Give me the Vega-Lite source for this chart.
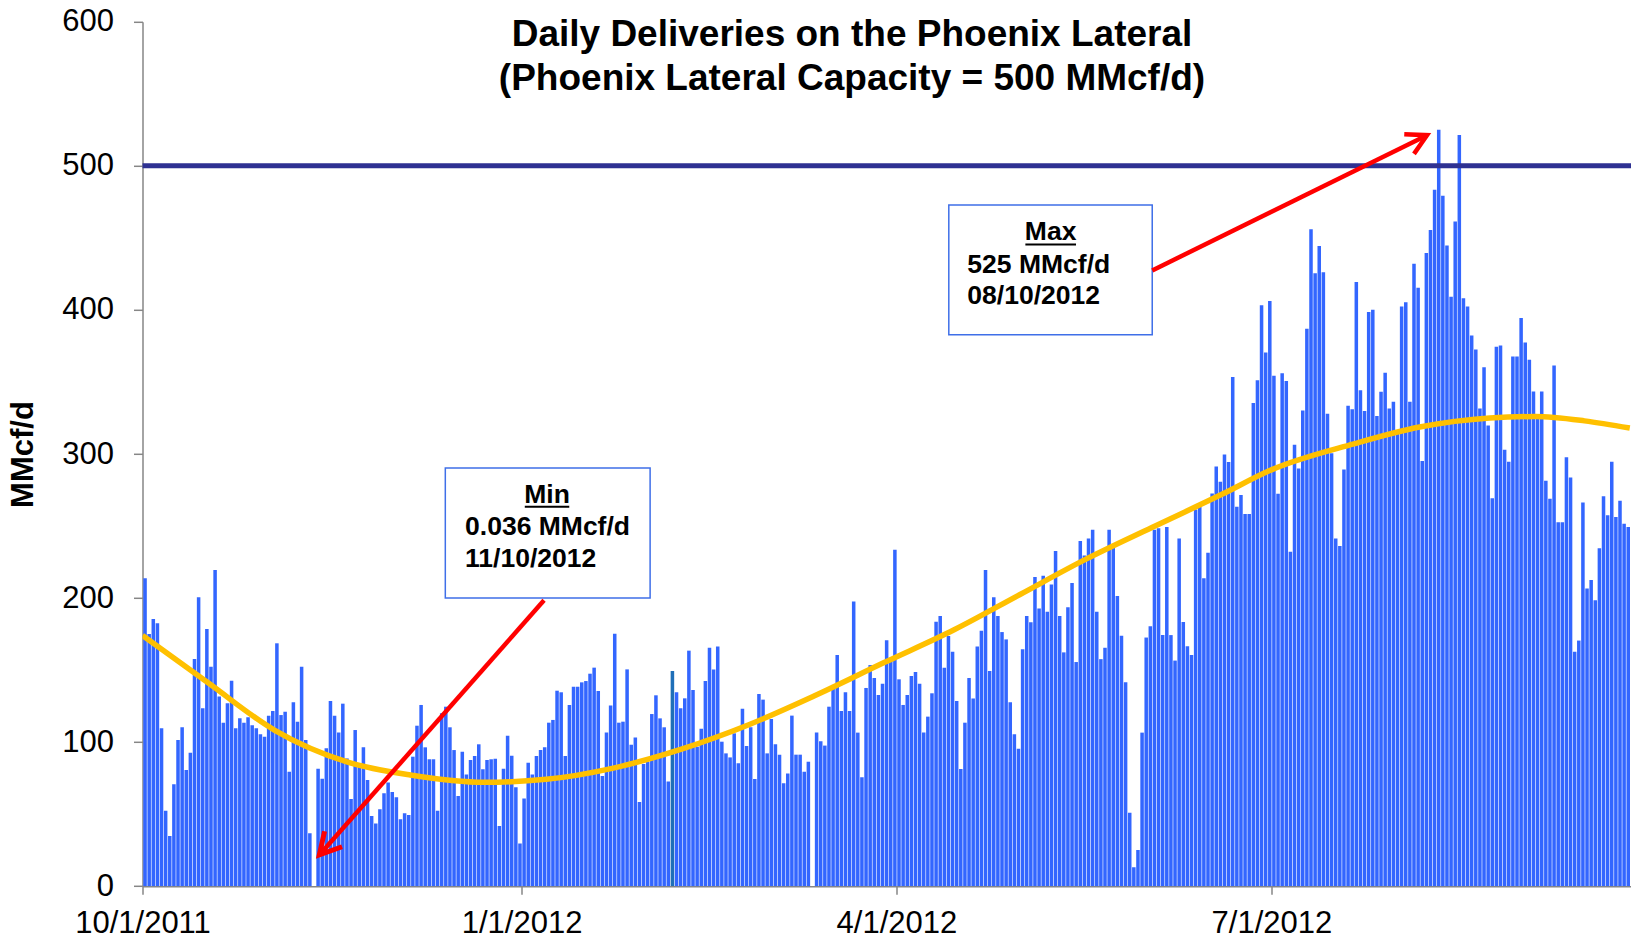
{
"$schema": "https://vega.github.io/schema/vega-lite/v6.json",
"width": 1488.5, "height": 864.4,
"autosize": {"type": "none"},
"padding": {"left": 142.5, "top": 21.8, "right": 0, "bottom": 56.8},
"background": "white",
"config": {"view": {"stroke": null}, "font": "Liberation Sans", "axis": {"grid": false}, "bar": {"binSpacing": 0.6}},
"data": {"values": [{}]},
"datasets": {
"daily": [
{"date":"2011-10-01","mmcfd":213.7},{"date":"2011-10-02","mmcfd":175},{"date":"2011-10-03","mmcfd":185.5},{"date":"2011-10-04","mmcfd":182.5},{"date":"2011-10-05","mmcfd":109.6},{"date":"2011-10-06","mmcfd":52.4},{"date":"2011-10-07","mmcfd":34.8},{"date":"2011-10-08","mmcfd":70.7},{"date":"2011-10-09","mmcfd":101.5},{"date":"2011-10-10","mmcfd":110.3},{"date":"2011-10-11","mmcfd":80.7},{"date":"2011-10-12","mmcfd":92.7},{"date":"2011-10-13","mmcfd":157.7},{"date":"2011-10-14","mmcfd":200.5},{"date":"2011-10-15","mmcfd":123.5},{"date":"2011-10-16","mmcfd":178.5},{"date":"2011-10-17","mmcfd":152.4},{"date":"2011-10-18","mmcfd":219.5},{"date":"2011-10-19","mmcfd":131.6},{"date":"2011-10-20","mmcfd":113.5},{"date":"2011-10-21","mmcfd":127},{"date":"2011-10-22","mmcfd":142.6},{"date":"2011-10-23","mmcfd":109.6},{"date":"2011-10-24","mmcfd":116.5},{"date":"2011-10-25","mmcfd":113.5},{"date":"2011-10-26","mmcfd":117.2},{"date":"2011-10-27","mmcfd":111.7},{"date":"2011-10-28","mmcfd":109.6},{"date":"2011-10-29","mmcfd":105.4},{"date":"2011-10-30","mmcfd":103.8},{"date":"2011-10-31","mmcfd":118.4},
{"date":"2011-11-01","mmcfd":121.6},{"date":"2011-11-02","mmcfd":168.6},{"date":"2011-11-03","mmcfd":118.8},{"date":"2011-11-04","mmcfd":121.1},{"date":"2011-11-05","mmcfd":79.5},{"date":"2011-11-06","mmcfd":127.6},{"date":"2011-11-07","mmcfd":114.2},{"date":"2011-11-08","mmcfd":152.4},{"date":"2011-11-09","mmcfd":101.5},{"date":"2011-11-10","mmcfd":36.7},{"date":"2011-11-11","mmcfd":0.036},{"date":"2011-11-12","mmcfd":81.6},{"date":"2011-11-13","mmcfd":74.6},{"date":"2011-11-14","mmcfd":95.7},{"date":"2011-11-15","mmcfd":128.5},{"date":"2011-11-16","mmcfd":118.4},{"date":"2011-11-17","mmcfd":106.6},{"date":"2011-11-18","mmcfd":126.7},{"date":"2011-11-19","mmcfd":88.7},{"date":"2011-11-20","mmcfd":60.5},{"date":"2011-11-21","mmcfd":108.4},{"date":"2011-11-22","mmcfd":83},{"date":"2011-11-23","mmcfd":96.4},{"date":"2011-11-24","mmcfd":73.7},{"date":"2011-11-25","mmcfd":48.7},{"date":"2011-11-26","mmcfd":43.6},{"date":"2011-11-27","mmcfd":53.4},{"date":"2011-11-28","mmcfd":64.5},{"date":"2011-11-29","mmcfd":72},{"date":"2011-11-30","mmcfd":65.4},
{"date":"2011-12-01","mmcfd":61.7},{"date":"2011-12-02","mmcfd":46.4},{"date":"2011-12-03","mmcfd":50.6},{"date":"2011-12-04","mmcfd":49.4},{"date":"2011-12-05","mmcfd":89.9},{"date":"2011-12-06","mmcfd":111.4},{"date":"2011-12-07","mmcfd":125.8},{"date":"2011-12-08","mmcfd":96.4},{"date":"2011-12-09","mmcfd":88.1},{"date":"2011-12-10","mmcfd":88.1},{"date":"2011-12-11","mmcfd":52.4},{"date":"2011-12-12","mmcfd":120},{"date":"2011-12-13","mmcfd":124.6},{"date":"2011-12-14","mmcfd":110.3},{"date":"2011-12-15","mmcfd":94.5},{"date":"2011-12-16","mmcfd":62.6},{"date":"2011-12-17","mmcfd":93.4},{"date":"2011-12-18","mmcfd":77.6},{"date":"2011-12-19","mmcfd":87.6},{"date":"2011-12-20","mmcfd":90.4},{"date":"2011-12-21","mmcfd":98.5},{"date":"2011-12-22","mmcfd":81.1},{"date":"2011-12-23","mmcfd":87.6},{"date":"2011-12-24","mmcfd":88.1},{"date":"2011-12-25","mmcfd":88.5},{"date":"2011-12-26","mmcfd":41.8},{"date":"2011-12-27","mmcfd":81.6},{"date":"2011-12-28","mmcfd":104.5},{"date":"2011-12-29","mmcfd":90.6},{"date":"2011-12-30","mmcfd":68.6},{"date":"2011-12-31","mmcfd":29.7},
{"date":"2012-01-01","mmcfd":60.8},{"date":"2012-01-02","mmcfd":85.7},{"date":"2012-01-03","mmcfd":77.6},{"date":"2012-01-04","mmcfd":90.4},{"date":"2012-01-05","mmcfd":94.5},{"date":"2012-01-06","mmcfd":96.4},{"date":"2012-01-07","mmcfd":113.5},{"date":"2012-01-08","mmcfd":115.4},{"date":"2012-01-09","mmcfd":135.7},{"date":"2012-01-10","mmcfd":134.6},{"date":"2012-01-11","mmcfd":90.4},{"date":"2012-01-12","mmcfd":125.8},{"date":"2012-01-13","mmcfd":138.5},{"date":"2012-01-14","mmcfd":138.5},{"date":"2012-01-15","mmcfd":141.5},{"date":"2012-01-16","mmcfd":142.4},{"date":"2012-01-17","mmcfd":147.5},{"date":"2012-01-18","mmcfd":151.7},{"date":"2012-01-19","mmcfd":135.5},{"date":"2012-01-20","mmcfd":76.5},{"date":"2012-01-21","mmcfd":106.6},{"date":"2012-01-22","mmcfd":125.5},{"date":"2012-01-23","mmcfd":175.3},{"date":"2012-01-24","mmcfd":113.5},{"date":"2012-01-25","mmcfd":114.2},{"date":"2012-01-26","mmcfd":150.5},{"date":"2012-01-27","mmcfd":98.2},{"date":"2012-01-28","mmcfd":103.3},{"date":"2012-01-29","mmcfd":58.4},{"date":"2012-01-30","mmcfd":84.8},{"date":"2012-01-31","mmcfd":86.4},
{"date":"2012-02-01","mmcfd":119.5},{"date":"2012-02-02","mmcfd":132.5},{"date":"2012-02-03","mmcfd":116.5},{"date":"2012-02-04","mmcfd":110.3},{"date":"2012-02-05","mmcfd":72.6},{"date":"2012-02-06","mmcfd":149.4},{"date":"2012-02-07","mmcfd":134.6},{"date":"2012-02-08","mmcfd":123.5},{"date":"2012-02-09","mmcfd":130.4},{"date":"2012-02-10","mmcfd":163.5},{"date":"2012-02-11","mmcfd":136.2},{"date":"2012-02-12","mmcfd":96.8},{"date":"2012-02-13","mmcfd":109.3},{"date":"2012-02-14","mmcfd":142.4},{"date":"2012-02-15","mmcfd":165.6},{"date":"2012-02-16","mmcfd":150.5},{"date":"2012-02-17","mmcfd":166.3},{"date":"2012-02-18","mmcfd":100.3},{"date":"2012-02-19","mmcfd":92.2},{"date":"2012-02-20","mmcfd":89.4},{"date":"2012-02-21","mmcfd":106.1},{"date":"2012-02-22","mmcfd":85.3},{"date":"2012-02-23","mmcfd":123.2},{"date":"2012-02-24","mmcfd":97.3},{"date":"2012-02-25","mmcfd":110.3},{"date":"2012-02-26","mmcfd":74.4},{"date":"2012-02-27","mmcfd":133.4},{"date":"2012-02-28","mmcfd":129.5},{"date":"2012-02-29","mmcfd":92.2},
{"date":"2012-03-01","mmcfd":116.1},{"date":"2012-03-02","mmcfd":98.5},{"date":"2012-03-03","mmcfd":91.3},{"date":"2012-03-04","mmcfd":71.4},{"date":"2012-03-05","mmcfd":78.3},{"date":"2012-03-06","mmcfd":118.4},{"date":"2012-03-07","mmcfd":91.3},{"date":"2012-03-08","mmcfd":91.3},{"date":"2012-03-09","mmcfd":79.5},{"date":"2012-03-10","mmcfd":86.4},{"date":"2012-03-11","mmcfd":0},{"date":"2012-03-12","mmcfd":106.6},{"date":"2012-03-13","mmcfd":100.6},{"date":"2012-03-14","mmcfd":97.6},{"date":"2012-03-15","mmcfd":124.6},{"date":"2012-03-16","mmcfd":139.7},{"date":"2012-03-17","mmcfd":160.5},{"date":"2012-03-18","mmcfd":121.6},{"date":"2012-03-19","mmcfd":134.6},{"date":"2012-03-20","mmcfd":121.6},{"date":"2012-03-21","mmcfd":197.7},{"date":"2012-03-22","mmcfd":106.6},{"date":"2012-03-23","mmcfd":75.6},{"date":"2012-03-24","mmcfd":137.6},{"date":"2012-03-25","mmcfd":153.5},{"date":"2012-03-26","mmcfd":144.5},{"date":"2012-03-27","mmcfd":132.7},{"date":"2012-03-28","mmcfd":140.6},{"date":"2012-03-29","mmcfd":170.7},{"date":"2012-03-30","mmcfd":158},{"date":"2012-03-31","mmcfd":233.6},
{"date":"2012-04-01","mmcfd":143.6},{"date":"2012-04-02","mmcfd":125.8},{"date":"2012-04-03","mmcfd":132.7},{"date":"2012-04-04","mmcfd":145.9},{"date":"2012-04-05","mmcfd":148.7},{"date":"2012-04-06","mmcfd":140.6},{"date":"2012-04-07","mmcfd":106.6},{"date":"2012-04-08","mmcfd":117.7},{"date":"2012-04-09","mmcfd":133.9},{"date":"2012-04-10","mmcfd":183.6},{"date":"2012-04-11","mmcfd":187.6},{"date":"2012-04-12","mmcfd":151.7},{"date":"2012-04-13","mmcfd":173.7},{"date":"2012-04-14","mmcfd":162.8},{"date":"2012-04-15","mmcfd":128.5},{"date":"2012-04-16","mmcfd":81.3},{"date":"2012-04-17","mmcfd":113.5},{"date":"2012-04-18","mmcfd":144.5},{"date":"2012-04-19","mmcfd":130.3},{"date":"2012-04-20","mmcfd":166.4},{"date":"2012-04-21","mmcfd":177.3},{"date":"2012-04-22","mmcfd":219.4},{"date":"2012-04-23","mmcfd":149.3},{"date":"2012-04-24","mmcfd":200.5},{"date":"2012-04-25","mmcfd":187.5},{"date":"2012-04-26","mmcfd":176.4},{"date":"2012-04-27","mmcfd":171.3},{"date":"2012-04-28","mmcfd":127.6},{"date":"2012-04-29","mmcfd":105.4},{"date":"2012-04-30","mmcfd":95.4},
{"date":"2012-05-01","mmcfd":164.4},{"date":"2012-05-02","mmcfd":187.5},{"date":"2012-05-03","mmcfd":183.3},{"date":"2012-05-04","mmcfd":214.6},{"date":"2012-05-05","mmcfd":192.8},{"date":"2012-05-06","mmcfd":215.5},{"date":"2012-05-07","mmcfd":190.5},{"date":"2012-05-08","mmcfd":209.5},{"date":"2012-05-09","mmcfd":232.6},{"date":"2012-05-10","mmcfd":187.5},{"date":"2012-05-11","mmcfd":162.3},{"date":"2012-05-12","mmcfd":193.7},{"date":"2012-05-13","mmcfd":210.4},{"date":"2012-05-14","mmcfd":155.6},{"date":"2012-05-15","mmcfd":239.6},{"date":"2012-05-16","mmcfd":229.6},{"date":"2012-05-17","mmcfd":241.4},{"date":"2012-05-18","mmcfd":247.4},{"date":"2012-05-19","mmcfd":190.5},{"date":"2012-05-20","mmcfd":157.6},{"date":"2012-05-21","mmcfd":165.5},{"date":"2012-05-22","mmcfd":247.4},{"date":"2012-05-23","mmcfd":236},{"date":"2012-05-24","mmcfd":201.5},{"date":"2012-05-25","mmcfd":173.8},{"date":"2012-05-26","mmcfd":141.6},{"date":"2012-05-27","mmcfd":50.9},{"date":"2012-05-28","mmcfd":13.2},{"date":"2012-05-29","mmcfd":25.1},{"date":"2012-05-30","mmcfd":106.6},{"date":"2012-05-31","mmcfd":172.6},
{"date":"2012-06-01","mmcfd":180.5},{"date":"2012-06-02","mmcfd":247.4},{"date":"2012-06-03","mmcfd":248.4},{"date":"2012-06-04","mmcfd":174.3},{"date":"2012-06-05","mmcfd":249.3},{"date":"2012-06-06","mmcfd":174.3},{"date":"2012-06-07","mmcfd":156.6},{"date":"2012-06-08","mmcfd":241.4},{"date":"2012-06-09","mmcfd":183.4},{"date":"2012-06-10","mmcfd":166.6},{"date":"2012-06-11","mmcfd":160.4},{"date":"2012-06-12","mmcfd":261.5},{"date":"2012-06-13","mmcfd":263.9},{"date":"2012-06-14","mmcfd":213.7},{"date":"2012-06-15","mmcfd":231.4},{"date":"2012-06-16","mmcfd":272.5},{"date":"2012-06-17","mmcfd":291.4},{"date":"2012-06-18","mmcfd":280.7},{"date":"2012-06-19","mmcfd":299.6},{"date":"2012-06-20","mmcfd":294.4},{"date":"2012-06-21","mmcfd":353.4},{"date":"2012-06-22","mmcfd":263.3},{"date":"2012-06-23","mmcfd":271.5},{"date":"2012-06-24","mmcfd":258.4},{"date":"2012-06-25","mmcfd":258.4},{"date":"2012-06-26","mmcfd":335.4},{"date":"2012-06-27","mmcfd":351.2},{"date":"2012-06-28","mmcfd":403.2},{"date":"2012-06-29","mmcfd":370.5},{"date":"2012-06-30","mmcfd":406.2},
{"date":"2012-07-01","mmcfd":354.3},{"date":"2012-07-02","mmcfd":272.4},{"date":"2012-07-03","mmcfd":356.1},{"date":"2012-07-04","mmcfd":350.6},{"date":"2012-07-05","mmcfd":232.1},{"date":"2012-07-06","mmcfd":306.4},{"date":"2012-07-07","mmcfd":290},{"date":"2012-07-08","mmcfd":330.2},{"date":"2012-07-09","mmcfd":387},{"date":"2012-07-10","mmcfd":456},{"date":"2012-07-11","mmcfd":425.5},{"date":"2012-07-12","mmcfd":444.4},{"date":"2012-07-13","mmcfd":426.1},{"date":"2012-07-14","mmcfd":328},{"date":"2012-07-15","mmcfd":300.5},{"date":"2012-07-16","mmcfd":241.3},{"date":"2012-07-17","mmcfd":236.1},{"date":"2012-07-18","mmcfd":289.2},{"date":"2012-07-19","mmcfd":333.5},{"date":"2012-07-20","mmcfd":331.1},{"date":"2012-07-21","mmcfd":419.4},{"date":"2012-07-22","mmcfd":344.3},{"date":"2012-07-23","mmcfd":329.8},{"date":"2012-07-24","mmcfd":398.5},{"date":"2012-07-25","mmcfd":400.2},{"date":"2012-07-26","mmcfd":326.3},{"date":"2012-07-27","mmcfd":343.2},{"date":"2012-07-28","mmcfd":356.4},{"date":"2012-07-29","mmcfd":331.5},{"date":"2012-07-30","mmcfd":336.3},{"date":"2012-07-31","mmcfd":315},
{"date":"2012-08-01","mmcfd":402.3},{"date":"2012-08-02","mmcfd":405.4},{"date":"2012-08-03","mmcfd":336.3},{"date":"2012-08-04","mmcfd":432},{"date":"2012-08-05","mmcfd":415.4},{"date":"2012-08-06","mmcfd":295.2},{"date":"2012-08-07","mmcfd":439.6},{"date":"2012-08-08","mmcfd":455.4},{"date":"2012-08-09","mmcfd":483.4},{"date":"2012-08-10","mmcfd":525},{"date":"2012-08-11","mmcfd":479.3},{"date":"2012-08-12","mmcfd":444.8},{"date":"2012-08-13","mmcfd":409.2},{"date":"2012-08-14","mmcfd":461.3},{"date":"2012-08-15","mmcfd":521.4},{"date":"2012-08-16","mmcfd":408.1},{"date":"2012-08-17","mmcfd":402.3},{"date":"2012-08-18","mmcfd":382.3},{"date":"2012-08-19","mmcfd":372.6},{"date":"2012-08-20","mmcfd":331.5},{"date":"2012-08-21","mmcfd":360.2},{"date":"2012-08-22","mmcfd":319.8},{"date":"2012-08-23","mmcfd":269.3},{"date":"2012-08-24","mmcfd":374.5},{"date":"2012-08-25","mmcfd":375.3},{"date":"2012-08-26","mmcfd":303},{"date":"2012-08-27","mmcfd":294.6},{"date":"2012-08-28","mmcfd":367.6},{"date":"2012-08-29","mmcfd":367.6},{"date":"2012-08-30","mmcfd":394.4},{"date":"2012-08-31","mmcfd":377.4},
{"date":"2012-09-01","mmcfd":365.5},{"date":"2012-09-02","mmcfd":343.4},{"date":"2012-09-03","mmcfd":326},{"date":"2012-09-04","mmcfd":343.4},{"date":"2012-09-05","mmcfd":281.5},{"date":"2012-09-06","mmcfd":269},{"date":"2012-09-07","mmcfd":361.5},{"date":"2012-09-08","mmcfd":252.6},{"date":"2012-09-09","mmcfd":252.6},{"date":"2012-09-10","mmcfd":297.7},{"date":"2012-09-11","mmcfd":283.7},{"date":"2012-09-12","mmcfd":162.8},{"date":"2012-09-13","mmcfd":170.5},{"date":"2012-09-14","mmcfd":266.4},{"date":"2012-09-15","mmcfd":206.6},{"date":"2012-09-16","mmcfd":212.5},{"date":"2012-09-17","mmcfd":198.4},{"date":"2012-09-18","mmcfd":234.5},{"date":"2012-09-19","mmcfd":270.6},{"date":"2012-09-20","mmcfd":257.4},{"date":"2012-09-21","mmcfd":294.6},{"date":"2012-09-22","mmcfd":256.3},{"date":"2012-09-23","mmcfd":267.5},{"date":"2012-09-24","mmcfd":251.5},{"date":"2012-09-25","mmcfd":249.4}
],
"trend": [
{"date":"2011-10-01","mmcfd":174},{"date":"2011-10-17","mmcfd":141},{"date":"2011-11-02","mmcfd":108.4},{"date":"2011-11-20","mmcfd":86},{"date":"2011-12-05","mmcfd":77.2},{"date":"2011-12-23","mmcfd":72.1},{"date":"2012-01-07","mmcfd":74.2},{"date":"2012-01-23","mmcfd":81.8},{"date":"2012-02-09","mmcfd":95.3},{"date":"2012-02-25","mmcfd":111.9},{"date":"2012-03-12","mmcfd":132},{"date":"2012-03-29","mmcfd":155.2},{"date":"2012-04-15","mmcfd":178},{"date":"2012-05-01","mmcfd":202.5},{"date":"2012-05-17","mmcfd":227},{"date":"2012-06-02","mmcfd":249},{"date":"2012-06-19","mmcfd":272},{"date":"2012-07-01","mmcfd":289},{"date":"2012-07-21","mmcfd":307},{"date":"2012-08-06","mmcfd":318.7},{"date":"2012-08-23","mmcfd":325},{"date":"2012-09-03","mmcfd":326},{"date":"2012-09-15","mmcfd":323},{"date":"2012-09-26","mmcfd":318}
]
},
"layer": [
{
"data": {"name": "daily"},
"mark": {"type": "bar", "clip": true, "binSpacing": 0.6},
"encoding": {
"x": {"field": "date", "type": "temporal", "timeUnit": "utcyearmonthdate", "title": null,
"scale": {"type": "utc", "domain": [{"year":2011,"month":10,"date":1,"utc":true},{"year":2012,"month":9,"date":26,"hours":7,"utc":true}]},
"axis": {"values": [{"year":2011,"month":10,"date":1,"utc":true},{"year":2012,"month":1,"date":1,"utc":true},{"year":2012,"month":4,"date":1,"utc":true},{"year":2012,"month":7,"date":1,"utc":true}],
"labelExpr": "utcFormat(datum.value, '%-m/%-d/%Y')", "tickSize": 8, "labelFontSize": 31, "labelPadding": 14, "labelColor": "black", "labelFont": "Liberation Sans",
"domainColor": "#868686", "tickColor": "#868686", "domainWidth": 1.5, "tickWidth": 1.5, "labelFlush": false, "labelOverlap": false, "labelBound": false, "labelAlign": "center"}},
"y": {"field": "mmcfd", "type": "quantitative", "title": "MMcf/d",
"scale": {"domain": [0, 600], "nice": false, "zero": true},
"axis": {"values": [0,100,200,300,400,500,600], "tickSize": 9, "labelFontSize": 31, "labelPadding": 20, "labelColor": "black", "labelFont": "Liberation Sans",
"domainColor": "#868686", "tickColor": "#868686", "domainWidth": 1.5, "tickWidth": 1.5,
"titleFontSize": 31, "titleFontWeight": "bold", "titleColor": "black", "titleFont": "Liberation Sans", "titlePadding": 22}},
"color": {"condition": {"test": "utcmonth(datum.date) == 1 && utcdate(datum.date) == 6", "value": "#1F6FB8"}, "value": "#3366FF"}
}
},
{
"data": {"name": "trend"},
"mark": {"type": "line", "color": "#FFC000", "strokeWidth": 5.5, "interpolate": "monotone", "clip": true},
"encoding": {
"x": {"field": "date", "type": "temporal", "scale": {"type": "utc"}},
"y": {"field": "mmcfd", "type": "quantitative"}
}
},
{
"mark": {"type": "rule", "color": "#2E3192", "strokeWidth": 5},
"encoding": {"y": {"datum": 500, "type": "quantitative"}}
},
{
"mark": {"type": "rect", "fill": "white", "stroke": "#3F6FE8", "strokeWidth": 1.5},
"encoding": {
"x": {"datum": {"year":2011,"month":12,"date":13,"hours":12,"utc":true}, "type": "temporal"},
"x2": {"datum": {"year":2012,"month":2,"date":1,"hours":5,"utc":true}},
"y": {"datum": 290.2, "type": "quantitative"},
"y2": {"datum": 200}
}
},
{
"mark": {"type": "rect", "fill": "white", "stroke": "#3F6FE8", "strokeWidth": 1.5},
"encoding": {
"x": {"datum": {"year":2012,"month":4,"date":13,"hours":17,"utc":true}, "type": "temporal"},
"x2": {"datum": {"year":2012,"month":6,"date":2,"hours":2,"utc":true}},
"y": {"datum": 472.9, "type": "quantitative"},
"y2": {"datum": 382.7}
}
},
{
"mark": {"type": "text", "text": "Min", "fontSize": 26.5, "fontWeight": "bold", "align": "center", "baseline": "middle", "color": "black", "font": "Liberation Sans"},
"encoding": {"x": {"datum": {"year":2012,"month":1,"date":7,"hours":5,"utc":true}, "type": "temporal"}, "y": {"datum": 271.5, "type": "quantitative"}}
},
{
"mark": {"type": "text", "text": "0.036 MMcf/d", "fontSize": 26.5, "fontWeight": "bold", "align": "left", "baseline": "middle", "color": "black", "font": "Liberation Sans"},
"encoding": {"x": {"datum": {"year":2011,"month":12,"date":18,"hours":7,"utc":true}, "type": "temporal"}, "y": {"datum": 249.5, "type": "quantitative"}}
},
{
"mark": {"type": "text", "text": "11/10/2012", "fontSize": 26.5, "fontWeight": "bold", "align": "left", "baseline": "middle", "color": "black", "font": "Liberation Sans"},
"encoding": {"x": {"datum": {"year":2011,"month":12,"date":18,"hours":7,"utc":true}, "type": "temporal"}, "y": {"datum": 227.4, "type": "quantitative"}}
},
{
"mark": {"type": "rule", "color": "black", "strokeWidth": 2},
"encoding": {"x": {"datum": {"year":2012,"month":1,"date":1,"hours":19,"utc":true}, "type": "temporal"}, "x2": {"datum": {"year":2012,"month":1,"date":12,"hours":14,"utc":true}}, "y": {"datum": 263.3, "type": "quantitative"}}
},
{
"mark": {"type": "text", "text": "Max", "fontSize": 26.5, "fontWeight": "bold", "align": "center", "baseline": "middle", "color": "black", "font": "Liberation Sans"},
"encoding": {"x": {"datum": {"year":2012,"month":5,"date":8,"hours":10,"utc":true}, "type": "temporal"}, "y": {"datum": 454.1, "type": "quantitative"}}
},
{
"mark": {"type": "text", "text": "525 MMcf/d", "fontSize": 26.5, "fontWeight": "bold", "align": "left", "baseline": "middle", "color": "black", "font": "Liberation Sans"},
"encoding": {"x": {"datum": {"year":2012,"month":4,"date":18,"hours":5,"utc":true}, "type": "temporal"}, "y": {"datum": 431.4, "type": "quantitative"}}
},
{
"mark": {"type": "text", "text": "08/10/2012", "fontSize": 26.5, "fontWeight": "bold", "align": "left", "baseline": "middle", "color": "black", "font": "Liberation Sans"},
"encoding": {"x": {"datum": {"year":2012,"month":4,"date":18,"hours":5,"utc":true}, "type": "temporal"}, "y": {"datum": 409.4, "type": "quantitative"}}
},
{
"mark": {"type": "rule", "color": "black", "strokeWidth": 2},
"encoding": {"x": {"datum": {"year":2012,"month":5,"date":2,"hours":7,"utc":true}, "type": "temporal"}, "x2": {"datum": {"year":2012,"month":5,"date":14,"hours":14,"utc":true}}, "y": {"datum": 445.5, "type": "quantitative"}}
},
{
"mark": {"type": "rule", "color": "#FF0000", "strokeWidth": 4.5},
"encoding": {"x": {"datum": {"year":2012,"month":1,"date":6,"hours":11,"utc":true}, "type": "temporal"}, "x2": {"datum": {"year":2011,"month":11,"date":12,"hours":22,"utc":true}}, "y": {"datum": 198.5, "type": "quantitative"}, "y2": {"datum": 21.7}}
},
{
"mark": {"type": "rule", "color": "#FF0000", "strokeWidth": 4.5},
"encoding": {"x": {"datum": {"year":2012,"month":6,"date":2,"hours":2,"utc":true}, "type": "temporal"}, "x2": {"datum": {"year":2012,"month":8,"date":7,"hours":19,"utc":true}}, "y": {"datum": 427.4, "type": "quantitative"}, "y2": {"datum": 521.3}}
},
{
"mark": {"type": "point", "shape": "M-0.55,1L0,0L0.55,1", "filled": false, "stroke": "#FF0000", "strokeWidth": 5, "size": 1800, "angle": 221.4, "opacity": 1, "strokeJoin": "miter"},
"encoding": {"x": {"datum": {"year":2011,"month":11,"date":12,"hours":22,"utc":true}, "type": "temporal"}, "y": {"datum": 21.7, "type": "quantitative"}}
},
{
"mark": {"type": "point", "shape": "M-0.55,1L0,0L0.55,1", "filled": false, "stroke": "#FF0000", "strokeWidth": 4.5, "size": 1600, "angle": 63.8, "opacity": 1, "strokeJoin": "miter"},
"encoding": {"x": {"datum": {"year":2012,"month":8,"date":7,"hours":19,"utc":true}, "type": "temporal"}, "y": {"datum": 521.3, "type": "quantitative"}}
},
{
"mark": {"type": "text", "text": "Daily Deliveries on the Phoenix Lateral", "fontSize": 37, "fontWeight": "bold", "align": "center", "baseline": "middle", "color": "black", "font": "Liberation Sans"},
"encoding": {"x": {"datum": {"year":2012,"month":3,"date":21,"hours":5,"utc":true}, "type": "temporal"}, "y": {"datum": 590.5, "type": "quantitative"}}
},
{
"mark": {"type": "text", "text": "(Phoenix Lateral Capacity = 500 MMcf/d)", "fontSize": 37, "fontWeight": "bold", "align": "center", "baseline": "middle", "color": "black", "font": "Liberation Sans"},
"encoding": {"x": {"datum": {"year":2012,"month":3,"date":21,"hours":5,"utc":true}, "type": "temporal"}, "y": {"datum": 560.3, "type": "quantitative"}}
}
]
}
